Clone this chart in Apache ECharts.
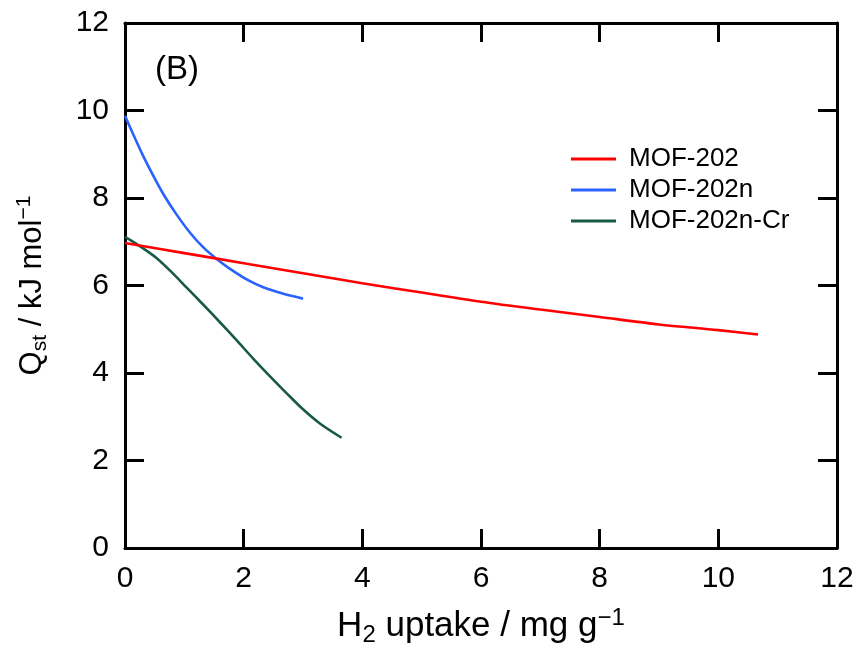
<!DOCTYPE html>
<html>
<head>
    <meta charset="utf-8">
    <title>Qst</title>
    <script src="https://cdn.jsdelivr.net/npm/echarts@6/dist/echarts.min.js"></script>
    <style>
        html, body { margin: 0; padding: 0; background: #ffffff; }
        #chart { width: 856px; height: 649px; }
    </style>
</head>
<body>
<div id="chart"></div>
<script>
    // data
    var seriesNames = ['MOF-202', 'MOF-202n', 'MOF-202n-Cr'];
    var mof202X = [0, 1, 2, 3, 4, 5, 6, 7, 8, 9, 10, 10.67];
    var mof202Y = [6.97, 6.74, 6.51, 6.28, 6.05, 5.84, 5.63, 5.45, 5.28, 5.11, 4.98, 4.88];
    var mof202nX = [0, 0.14, 0.31, 0.48, 0.65, 0.87, 1.10, 1.32, 1.55, 1.77, 2.05, 2.33, 2.67, 3.0];
    var mof202nY = [9.88, 9.45, 8.95, 8.50, 8.08, 7.62, 7.20, 6.87, 6.60, 6.38, 6.14, 5.96, 5.81, 5.70];
    var mof202nCrX = [0, 0.25, 0.53, 0.79, 1.04, 1.32, 1.60, 1.88, 2.16, 2.44, 2.73, 3.0, 3.29, 3.65];
    var mof202nCrY = [7.11, 6.90, 6.63, 6.30, 5.95, 5.56, 5.16, 4.75, 4.33, 3.93, 3.53, 3.17, 2.84, 2.52];
    var axisMin = 0, axisMax = 12, axisStep = 2;

    var colors = ['#ff0000', '#2a62ff', '#185a47'];
    var font = 'Liberation Sans, Arial, sans-serif';

    function pairs(xs, ys) {
        var out = [];
        for (var i = 0; i < xs.length; i++) out.push([xs[i], ys[i]]);
        return out;
    }
    var allData = [pairs(mof202X, mof202Y), pairs(mof202nX, mof202nY), pairs(mof202nCrX, mof202nCrY)];

    function richTitle(size, small) {
        return {
            n: { fontSize: size, fontFamily: font, color: '#000', lineHeight: size + 6 },
            sub: { fontSize: small, fontFamily: font, color: '#000', lineHeight: small, verticalAlign: 'bottom' },
            sup: { fontSize: small, fontFamily: font, color: '#000', lineHeight: small, verticalAlign: 'top' }
        };
    }

    function baseAxis(pos, show) {
        return {
            type: 'value',
            position: pos,
            min: axisMin, max: axisMax, interval: axisStep,
            splitLine: { show: false },
            axisLine: { show: true, onZero: false, lineStyle: { color: '#000', width: 3 } },
            axisTick: { show: true, inside: true, length: 19, lineStyle: { color: '#000', width: 3 } },
            axisLabel: { show: show, fontSize: 30, fontFamily: font, color: '#000', margin: 16 }
        };
    }

    var xBottom = baseAxis('bottom', true);
    xBottom.name = '{n|H}{sub|2}{n| uptake / mg g}{sup|−1}';
    xBottom.nameLocation = 'middle';
    xBottom.nameGap = 58;
    xBottom.nameTextStyle = { rich: richTitle(35, 24) };

    var yLeft = baseAxis('left', true);
    yLeft.name = '{n|Q}{sub|st}{n| / kJ mol}{sup|−1}';
    yLeft.nameLocation = 'middle';
    yLeft.nameGap = 74;
    yLeft.nameTextStyle = { rich: richTitle(31, 21) };

    var series = [];
    for (var i = 0; i < seriesNames.length; i++) {
        series.push({
            name: seriesNames[i],
            type: 'line',
            xAxisIndex: 0,
            yAxisIndex: 0,
            data: allData[i],
            showSymbol: false,
            symbol: 'none',
            smooth: 0.3,
            lineStyle: { color: colors[i], width: 2.6 },
            itemStyle: { color: colors[i] },
            z: 3 - i
        });
    }

    var chart = echarts.init(document.getElementById('chart'), null, { renderer: 'canvas' });
    chart.setOption({
        backgroundColor: '#ffffff',
        animation: false,
        grid: { left: 125, right: 19, top: 23, bottom: 101, containLabel: false, outerBoundsMode: 'none' },
        xAxis: [xBottom, baseAxis('top', false)],
        yAxis: [yLeft, baseAxis('right', false)],
        legend: {
            orient: 'vertical',
            left: 566,
            top: 141,
            itemWidth: 45,
            itemHeight: 3,
            itemGap: 5,
            icon: 'rect',
            data: seriesNames,
            textStyle: { fontSize: 26, fontFamily: font, color: '#000', lineHeight: 26, padding: [0, 0, 0, 8] }
        },
        graphic: [{
            type: 'text',
            left: 155,
            top: 53,
            style: { text: '(B)', fontSize: 33, fontFamily: font, fill: '#000' }
        }],
        series: series
    });
</script>
</body>
</html>
